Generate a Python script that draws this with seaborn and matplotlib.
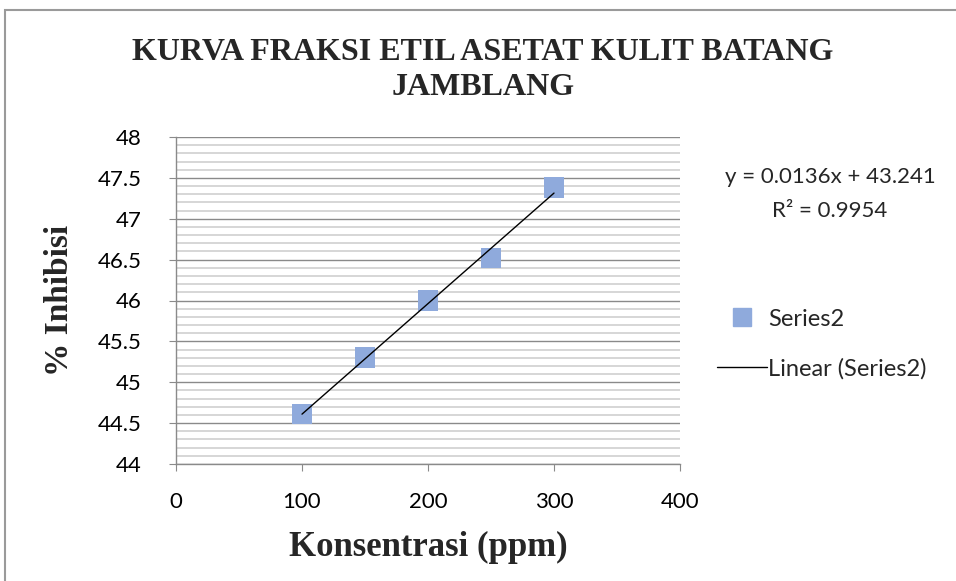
import numpy as np
import pandas as pd
import matplotlib.pyplot as plt
import seaborn as sns
from matplotlib.patches import Rectangle
from matplotlib.lines import Line2D
from matplotlib.ticker import MultipleLocator

konsentrasi = [100, 150, 200, 250, 300]
inhibisi = [44.61, 45.30, 46.00, 46.52, 47.38]
x_ticks = [0, 100, 200, 300, 400]
y_ticks = [44, 44.5, 45, 45.5, 46, 46.5, 47, 47.5, 48]
y_tick_labels = ['44', '44.5', '45', '45.5', '46', '46.5', '47', '47.5', '48']

df = pd.DataFrame({'x': konsentrasi, 'y': inhibisi})

sns.set_style('white')
plt.rcParams['font.family'] = ['Lato', 'DejaVu Sans']

fig = plt.figure(figsize=(9.56, 5.81), dpi=100)
ax = fig.add_axes([176/956, 1-464/581, (680-176)/956, (464-137)/581])

# outer chart frame
fig.patches.append(Rectangle((5/956, -0.05), 1.1, 1.05 - 10/581, transform=fig.transFigure,
                             fill=False, edgecolor='#9a9a9a', lw=1.5))

sns.regplot(x='x', y='y', data=df, ci=None, ax=ax,
            marker='s', scatter_kws={'s': 220, 'color': '#8faadc', 'edgecolors': 'none', 'alpha': 1, 'zorder': 3},
            line_kws={'color': 'black', 'lw': 1, 'zorder': 4})

ax.set_xlim(0, 400)
ax.set_ylim(44, 48)
ax.set_xticks(x_ticks)
ax.set_yticks(y_ticks)
ax.set_yticklabels(y_tick_labels)
ax.yaxis.set_minor_locator(MultipleLocator(0.1))
ax.grid(which='major', axis='y', color='#8a8a8a', lw=1)
ax.grid(which='minor', axis='y', color='#d0d0d0', lw=1.2)
ax.grid(which='major', axis='x', visible=False)
ax.set_axisbelow(True)

for s in ['top', 'right']:
    ax.spines[s].set_visible(False)
for s in ['left', 'bottom']:
    ax.spines[s].set_color('#8a8a8a')
    ax.spines[s].set_linewidth(1)

ax.tick_params(axis='both', which='major', direction='out', length=5, color='#8a8a8a',
               labelsize=16, labelcolor='black', left=True, bottom=True)
ax.tick_params(axis='y', which='minor', left=False)
ax.tick_params(axis='x', pad=15)
ax.tick_params(axis='y', pad=20)

ax.set_xlabel('Konsentrasi (ppm)', fontsize=25, fontweight='bold', family='Liberation Serif', labelpad=14)
ax.set_ylabel('% Inhibisi', fontsize=24, fontweight='bold', family='Liberation Serif', labelpad=16)

fig.text(483/956, 1-70/581, 'KURVA FRAKSI ETIL ASETAT KULIT BATANG\nJAMBLANG', ha='center', va='center',
         fontsize=23, fontweight='bold', family='Liberation Serif', linespacing=1.25)

fig.text(830/956, 1-177/581, 'y = 0.0136x + 43.241', ha='center', va='center', fontsize=16)
fig.text(830/956, 1-211/581, 'R² = 0.9954', ha='center', va='center', fontsize=16)

handles = [Line2D([], [], marker='s', ls='none', color='#8faadc', markersize=13),
           Line2D([], [], color='black', lw=1)]
fig.legend(handles, ['Series2', 'Linear (Series2)'], loc='center left',
           bbox_to_anchor=(696/956, 1-344/581), frameon=False, fontsize=17,
           handlelength=2.1, handletextpad=0.05, labelspacing=1.2)

fig.savefig('out.png', dpi=100)
